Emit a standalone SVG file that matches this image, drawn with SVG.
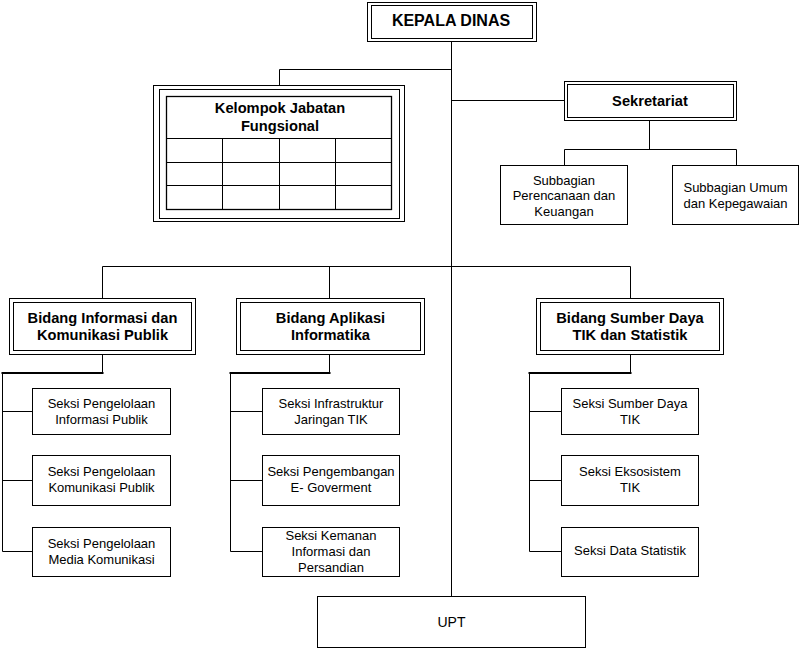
<svg xmlns="http://www.w3.org/2000/svg" width="800" height="648" viewBox="0 0 800 648">
<style>
rect{fill:#fff;stroke:#000;stroke-width:1}
line,polyline{stroke:#000;stroke-width:1;fill:none}
text{font-family:"Liberation Sans",Arial,sans-serif;fill:#000;text-anchor:middle}
.b{font-weight:bold;font-size:14.67px}
.n{font-size:13px}
</style>
<rect x="0" y="0" width="800" height="648" style="stroke:none"/>
<g id="connectors">
<line x1="451.5" y1="41.5" x2="451.5" y2="596.5"/>
<polyline points="451.5,69.5 279.5,69.5 279.5,85.5"/>
<line x1="451.5" y1="100.5" x2="564.5" y2="100.5"/>
<line x1="649.5" y1="120.5" x2="649.5" y2="149.5"/>
<polyline points="564.5,165.5 564.5,149.5 736.5,149.5 736.5,165.5"/>
<line x1="102.5" y1="266.5" x2="630.5" y2="266.5"/>
<line x1="102.5" y1="266.5" x2="102.5" y2="298.5"/>
<line x1="329.5" y1="266.5" x2="329.5" y2="298.5"/>
<line x1="630.5" y1="266.5" x2="630.5" y2="298.5"/>
<line x1="102.5" y1="354.5" x2="102.5" y2="373"/>
<line x1="1.5" y1="373" x2="103.5" y2="373" style="stroke-width:2"/>
<line x1="2.5" y1="373" x2="2.5" y2="551.5"/>
<line x1="2.5" y1="411.5" x2="32.5" y2="411.5"/>
<line x1="2.5" y1="480.5" x2="32.5" y2="480.5"/>
<line x1="2.5" y1="551.5" x2="32.5" y2="551.5"/>
<line x1="329.5" y1="354.5" x2="329.5" y2="373"/>
<line x1="229.5" y1="373" x2="330.5" y2="373" style="stroke-width:2"/>
<line x1="230.5" y1="373" x2="230.5" y2="551.5"/>
<line x1="230.5" y1="411.5" x2="262.5" y2="411.5"/>
<line x1="230.5" y1="480.5" x2="262.5" y2="480.5"/>
<line x1="230.5" y1="551.5" x2="262.5" y2="551.5"/>
<line x1="630.5" y1="354.5" x2="630.5" y2="373"/>
<line x1="528.5" y1="373" x2="631.5" y2="373" style="stroke-width:2"/>
<line x1="529.5" y1="373" x2="529.5" y2="551.5"/>
<line x1="529.5" y1="411.5" x2="561.5" y2="411.5"/>
<line x1="529.5" y1="480.5" x2="561.5" y2="480.5"/>
<line x1="529.5" y1="551.5" x2="561.5" y2="551.5"/>
</g>
<g id="kepala-dinas">
<rect x="367.5" y="2.5" width="169" height="39"/>
<rect x="371.5" y="5.5" width="161" height="33"/>
<text x="451" y="26" style="font-weight:bold;font-size:16px">KEPALA DINAS</text>
</g>
<g id="kelompok-jabatan-fungsional">
<rect x="153.5" y="85.5" width="251" height="136"/>
<rect x="159.5" y="89.5" width="240" height="129"/>
<rect x="166.5" y="96.5" width="225" height="113" style="stroke-width:1.3"/>
<line x1="166.5" y1="138.5" x2="391.5" y2="138.5"/>
<line x1="166.5" y1="162.5" x2="391.5" y2="162.5"/>
<line x1="166.5" y1="185.5" x2="391.5" y2="185.5"/>
<line x1="222.5" y1="138.5" x2="222.5" y2="209.5"/>
<line x1="279.5" y1="138.5" x2="279.5" y2="209.5"/>
<line x1="335.5" y1="138.5" x2="335.5" y2="209.5"/>
<text class="b" x="280" y="112.5">Kelompok Jabatan</text>
<text class="b" x="280" y="130.5">Fungsional</text>
</g>
<g id="sekretariat">
<rect x="564.5" y="81.5" width="172" height="39"/>
<rect x="567.5" y="84.5" width="166" height="33"/>
<text class="b" x="650" y="106">Sekretariat</text>
</g>
<g id="subbagian-perencanaan">
<rect x="500.5" y="165.5" width="127" height="59"/>
<text class="n" x="564" y="184.5">Subbagian</text>
<text class="n" x="564" y="200">Perencanaan dan</text>
<text class="n" x="564" y="215.5">Keuangan</text>
</g>
<g id="subbagian-umum">
<rect x="672.5" y="165.5" width="126" height="59"/>
<text class="n" x="735.5" y="191.5">Subbagian Umum</text>
<text class="n" x="735.5" y="207.5">dan Kepegawaian</text>
</g>
<g id="bidang-informasi">
<rect x="9.5" y="298.5" width="186" height="56"/>
<rect x="13.5" y="302.5" width="178" height="48"/>
<text class="b" x="102.5" y="322.5">Bidang Informasi dan</text>
<text class="b" x="102.5" y="339.5">Komunikasi Publik</text>
</g>
<g id="bidang-aplikasi">
<rect x="236.5" y="298.5" width="188" height="56"/>
<rect x="240.5" y="302.5" width="180" height="48"/>
<text class="b" x="330.5" y="322.5">Bidang Aplikasi</text>
<text class="b" x="330.5" y="339.5">Informatika</text>
</g>
<g id="bidang-sumber-daya">
<rect x="536.5" y="298.5" width="187" height="56"/>
<rect x="540.5" y="302.5" width="179" height="48"/>
<text class="b" x="630" y="322.5">Bidang Sumber Daya</text>
<text class="b" x="630" y="339.5">TIK dan Statistik</text>
</g>
<g id="seksi-informasi-publik">
<rect x="32.5" y="388.5" width="138" height="46"/>
<text class="n" x="101.5" y="408">Seksi Pengelolaan</text>
<text class="n" x="101.5" y="424">Informasi Publik</text>
</g>
<g id="seksi-komunikasi-publik">
<rect x="32.5" y="455.5" width="138" height="50"/>
<text class="n" x="101.5" y="475.5">Seksi Pengelolaan</text>
<text class="n" x="101.5" y="492">Komunikasi Publik</text>
</g>
<g id="seksi-media-komunikasi">
<rect x="32.5" y="527.5" width="138" height="49"/>
<text class="n" x="101.5" y="548">Seksi Pengelolaan</text>
<text class="n" x="101.5" y="564">Media Komunikasi</text>
</g>
<g id="seksi-infrastruktur">
<rect x="262.5" y="388.5" width="137" height="46"/>
<text class="n" x="331" y="408">Seksi Infrastruktur</text>
<text class="n" x="331" y="424">Jaringan TIK</text>
</g>
<g id="seksi-pengembangan">
<rect x="262.5" y="455.5" width="137" height="50"/>
<text class="n" x="331" y="475.5">Seksi Pengembangan</text>
<text class="n" x="331" y="492">E- Goverment</text>
</g>
<g id="seksi-keamanan">
<rect x="262.5" y="527.5" width="137" height="49"/>
<text class="n" x="331" y="539.5">Seksi Kemanan</text>
<text class="n" x="331" y="556">Informasi dan</text>
<text class="n" x="331" y="571.5">Persandian</text>
</g>
<g id="seksi-sumber-daya">
<rect x="561.5" y="388.5" width="137" height="46"/>
<text class="n" x="630" y="408">Seksi Sumber Daya</text>
<text class="n" x="630" y="424">TIK</text>
</g>
<g id="seksi-ekosistem">
<rect x="561.5" y="455.5" width="137" height="50"/>
<text class="n" x="630" y="475.5">Seksi Eksosistem</text>
<text class="n" x="630" y="492">TIK</text>
</g>
<g id="seksi-data-statistik">
<rect x="561.5" y="527.5" width="137" height="49"/>
<text class="n" x="630" y="555">Seksi Data Statistik</text>
</g>
<g id="upt">
<rect x="317.5" y="596.5" width="268" height="51"/>
<text x="451.5" y="627" style="font-size:14px">UPT</text>
</g>
</svg>
